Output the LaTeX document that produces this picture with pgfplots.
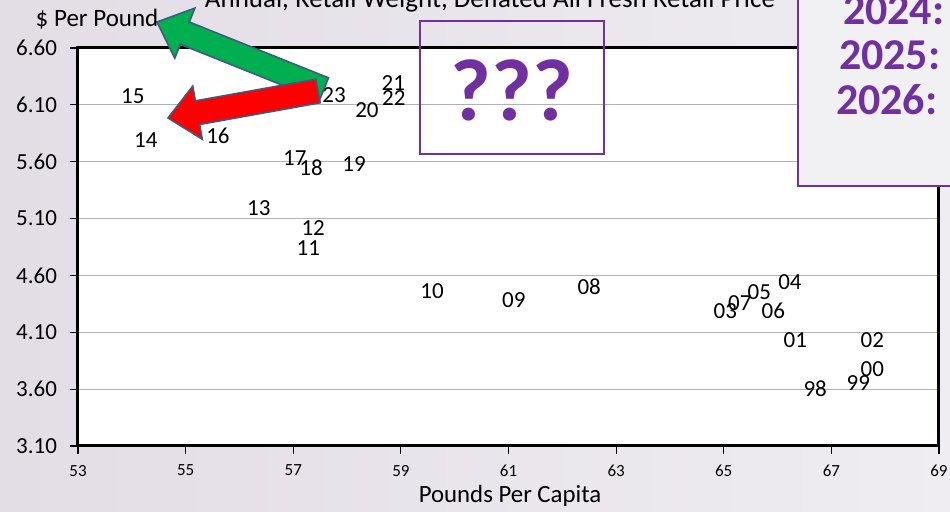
\documentclass[border=0pt]{standalone}
\usepackage{fontspec}
\setmainfont{Carlito}
\usepackage{pgfplots}
\pgfplotsset{compat=1.18}
\usetikzlibrary{calc}

\definecolor{purp}{HTML}{7030A0}
\definecolor{arrgreen}{HTML}{00B050}
\definecolor{arredge}{HTML}{3F5A80}
\definecolor{bgleft}{HTML}{E3DDE6}
\definecolor{bgright}{HTML}{EFEDF1}
\definecolor{boxgray}{HTML}{F1F0F2}

% block arrow: tail, tip, fill colour
\newcommand{\blockarrow}[3]{%
  \coordinate (T) at #1;
  \coordinate (H) at #2;
  \coordinate (N) at ($(H)!15pt!(T)$);
  \filldraw[fill=#3, draw=arredge, line width=0.8pt, line join=miter]
    ($(T)!6pt!90:(H)$) -- ($(N)!6pt!-90:(T)$) -- ($(N)!13.5pt!-90:(T)$) -- (H)
    -- ($(N)!13.5pt!90:(T)$) -- ($(N)!6pt!90:(T)$) -- ($(T)!6pt!-90:(H)$) -- cycle;
}

\pgfplotstableread{
x y label
54.02 6.18 15
54.26 5.79 14
55.60 5.83 16
57.76 6.19 23
58.86 6.29 21
58.87 6.16 22
58.37 6.05 20
57.03 5.63 17
57.33 5.55 18
58.13 5.58 19
56.36 5.19 13
57.37 5.02 12
57.28 4.84 11
59.58 4.46 10
61.10 4.38 09
62.50 4.50 08
65.03 4.29 03
65.30 4.36 07
65.66 4.45 05
66.23 4.54 04
65.92 4.29 06
66.33 4.03 01
67.76 4.03 02
67.76 3.78 00
67.50 3.65 99
66.70 3.60 98
}\years

\begin{document}
\begin{tikzpicture}[x=0.5pt, y=0.5pt]
  \useasboundingbox (0,0) rectangle (950,512);
  \shade[left color=bgleft, right color=bgright] (0,0) rectangle (950,512);

  \begin{axis}[
      at={(39pt,33pt)}, anchor=south west,
      scale only axis,
      width=430.5pt, height=199pt,
      xmin=53, xmax=69, ymin=3.1, ymax=6.6,
      xtick={53,55,...,69},
      ytick={3.1,3.6,4.1,4.6,5.1,5.6,6.1,6.6},
      xtick pos=bottom, ytick pos=left,
      tick align=outside,
      major tick length=4pt,
      tick style={black, line width=0.6pt},
      axis line style={line width=1.5pt},
      axis background/.style={fill=white},
      ymajorgrids,
      grid style={gray!60, line width=0.6pt},
      y tick label style={font=\fontsize{11.5}{13}\selectfont, xshift=-3pt,
        /pgf/number format/.cd, fixed, fixed zerofill, precision=2, assume math mode=true},
      x tick label style={font=\fontsize{8.5}{10}\selectfont, yshift=-2pt,
        /pgf/number format/assume math mode=true},
      clip=false,
    ]
    \addplot[draw=none, mark=none,
      nodes near coords,
      point meta=explicit symbolic,
      every node near coord/.append style={anchor=center, font=\fontsize{11.5}{13}\selectfont, black},
    ] table[x=x, y=y, meta=label] {\years};
  \end{axis}

  % arrows
  \blockarrow{(324,423)}{(157,490)}{arrgreen}
  \blockarrow{(318,421)}{(168,394)}{red}

  % texts
  \node[anchor=base, font=\fontsize{13.5}{15}\selectfont] at (490,504)
    {Annual, Retail Weight, Deflated All Fresh Retail Price};
  \node[font=\fontsize{12.5}{14}\selectfont] at (97,493) {\$ Per Pound};
  \node[font=\fontsize{12.4}{14}\selectfont] at (510,16) {Pounds Per Capita};

  % question box
  \draw[purp, line width=1.2pt] (420,491) rectangle (604,358);
  \node[purp, font=\bfseries\fontsize{44}{44}\selectfont] at (512,422) {???};

  % right box
  \draw[purp, fill=boxgray, line width=1pt] (798,326) rectangle (970,530);
  \node[purp, anchor=base west, font=\bfseries\fontsize{22}{24}\selectfont] at (836,487) {2024:};
  \node[purp, anchor=base west, font=\bfseries\fontsize{22}{24}\selectfont] at (832,442) {2025:};
  \node[purp, anchor=base west, font=\bfseries\fontsize{22}{24}\selectfont] at (829,397) {2026:};
\end{tikzpicture}
\end{document}
